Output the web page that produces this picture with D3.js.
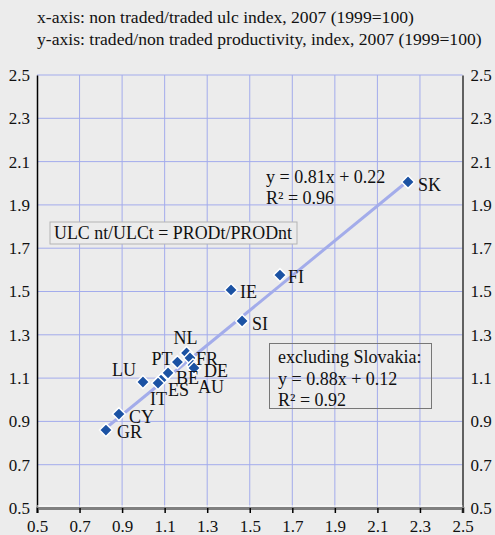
<!DOCTYPE html>
<html><head><meta charset="utf-8">
<script src="https://cdn.jsdelivr.net/npm/d3@7"></script>
<style>html,body{margin:0;padding:0;background:#ececec;}svg{display:block;}
svg text{font-family:"Liberation Serif","Times New Roman",Times,"DejaVu Serif",serif;}</style>
</head><body>
<svg id="chart" width="495" height="535"></svg>
<script>
const countries = ["SK","FI","IE","SI","NL","FR","PT","DE","AU","BE","ES","IT","LU","CY","GR"];
const ulcIndex  = [2.244,1.642,1.412,1.464,1.203,1.219,1.160,1.233,1.238,1.116,1.083,1.069,0.998,0.885,0.824];
const prodIndex = [2.006,1.576,1.507,1.364,1.216,1.193,1.174,1.160,1.147,1.124,1.091,1.077,1.082,0.934,0.860];
const xTicks = [0.5,0.7,0.9,1.1,1.3,1.5,1.7,1.9,2.1,2.3,2.5];
const yTicks = [0.5,0.7,0.9,1.1,1.3,1.5,1.7,1.9,2.1,2.3,2.5];
const trendX = [0.83,2.23];
const trendY = [0.874,2.0];
const headerLines = ["x-axis: non traded/traded ulc index, 2007 (1999=100)",
                     "y-axis: traded/non traded productivity, index, 2007 (1999=100)"];
const identityText = "ULC nt/ULCt = PRODt/PRODnt";
const fitAll = ["y = 0.81x + 0.22","R² = 0.96"];
const fitExSK = ["excluding Slovakia:","y = 0.88x + 0.12","R² = 0.92"];
// label placement (styling): [dx, dy, anchor]
const labelOffsets = {
  SK:[10,9,"start"],FI:[8,8,"start"],IE:[9,8,"start"],SI:[10,9,"start"],
  NL:[-1,-9,"middle"],FR:[6,7,"start"],PT:[-5,3,"end"],DE:[11,12,"start"],
  AU:[4,25,"start"],BE:[8,11,"start"],ES:[7,16,"start"],IT:[-8,22,"start"],
  LU:[-7,-6,"end"],CY:[10,9,"start"],GR:[11,8,"start"]
};

const svg = d3.select("#chart");
const x = d3.scaleLinear().domain([0.5,2.5]).range([37,462.5]);
const y = d3.scaleLinear().domain([0.5,2.5]).range([508,75]);

svg.append("rect").attr("width",495).attr("height",535).attr("fill","#ececec");

// header
svg.selectAll(".hdr").data(headerLines).enter().append("text")
  .attr("x",37).attr("y",(d,i)=>23+i*21.5)
  .attr("font-size",17.6).attr("fill","#111")
  .text(d=>d);

// grid
const g = svg.append("g");
g.selectAll(".vg").data(xTicks.slice(1,-1)).enter().append("line")
  .attr("x1",d=>x(d)).attr("x2",d=>x(d)).attr("y1",y(2.5)).attr("y2",y(0.5))
  .attr("stroke","#a3acec").attr("stroke-width",1);
g.selectAll(".hg").data(yTicks.slice(1)).enter().append("line")
  .attr("y1",d=>y(d)).attr("y2",d=>y(d)).attr("x1",x(0.5)).attr("x2",x(2.5))
  .attr("stroke","#a3acec").attr("stroke-width",1);

// axes
const yAxisL = d3.axisLeft(y).tickValues(yTicks).tickSize(0).tickPadding(7).tickFormat(d3.format(".1f"));
const yAxisR = d3.axisRight(y).tickValues(yTicks).tickSize(0).tickPadding(8).tickFormat(d3.format(".1f"));
const xAxis = d3.axisBottom(x).tickValues(xTicks).tickSize(5).tickPadding(3).tickFormat(d3.format(".1f"));

const gl = svg.append("g").attr("transform",`translate(${x(0.5)},0)`).call(yAxisL);
gl.select(".domain").attr("stroke","#000").attr("stroke-width",1.5);
const gr = svg.append("g").attr("transform",`translate(${x(2.5)},0)`).call(yAxisR);
gr.select(".domain").attr("stroke","#333").attr("stroke-width",1.5);
const gb = svg.append("g").attr("transform",`translate(0,${y(0.5)})`).call(xAxis);
gb.select(".domain").attr("stroke","#808080").attr("stroke-width",3);
gb.selectAll(".tick line").attr("stroke","#000").attr("stroke-width",1.5);
svg.append("line").attr("x1",x(0.5)).attr("x2",x(2.5)).attr("y1",y(0.5)-2).attr("y2",y(0.5)-2)
  .attr("stroke","#fff").attr("stroke-width",1);
[gl,gr,gb].forEach(a=>a.attr("font-family",null).selectAll("text").attr("font-size",17).attr("fill","#111"));
gb.selectAll("text").attr("dy","0.95em");

// trend line
svg.append("line")
  .attr("x1",x(trendX[0])).attr("y1",y(trendY[0]))
  .attr("x2",x(trendX[1])).attr("y2",y(trendY[1]))
  .attr("stroke","#a3acea").attr("stroke-width",3);

// identity box
const ib = svg.append("g");
ib.append("rect").attr("x",50).attr("y",222).attr("width",247).attr("height",22)
  .attr("fill","#ececec").attr("stroke","#b4b4b4").attr("stroke-width",1);
ib.append("text").attr("x",54).attr("y",239).attr("font-size",18)
  .attr("fill","#111").attr("textLength",238).attr("lengthAdjust","spacingAndGlyphs").text(identityText);

// excluding SK box
const eb = svg.append("g");
eb.append("rect").attr("x",269.5).attr("y",343.5).attr("width",162).attr("height",65)
  .attr("fill","none").attr("stroke","#777").attr("stroke-width",1);
eb.selectAll("text").data(fitExSK).enter().append("text")
  .attr("x",278).attr("y",(d,i)=>363+i*21.5).attr("font-size",18)
  .attr("fill","#111").text(d=>d);

// regression text
svg.selectAll(".fit").data(fitAll).enter().append("text")
  .attr("x",266).attr("y",(d,i)=>183+i*20.5).attr("font-size",18)
  .attr("fill","#111").text(d=>d);

// points
const pts = countries.map((c,i)=>({c, x:ulcIndex[i], y:prodIndex[i]}));
const sym = d3.symbol().type(d3.symbolDiamond2).size(105);
svg.selectAll(".pt").data(pts).enter().append("path")
  .attr("d",sym).attr("transform",d=>`translate(${x(d.x)},${y(d.y)})`)
  .attr("fill","#1b52a3").attr("stroke","#fff").attr("stroke-width",1.5);
svg.selectAll(".lbl").data(pts).enter().append("text")
  .attr("x",d=>x(d.x)+labelOffsets[d.c][0]).attr("y",d=>y(d.y)+labelOffsets[d.c][1])
  .attr("text-anchor",d=>labelOffsets[d.c][2])
  .attr("font-size",18).attr("fill","#111").text(d=>d.c);
</script>
</body></html>
